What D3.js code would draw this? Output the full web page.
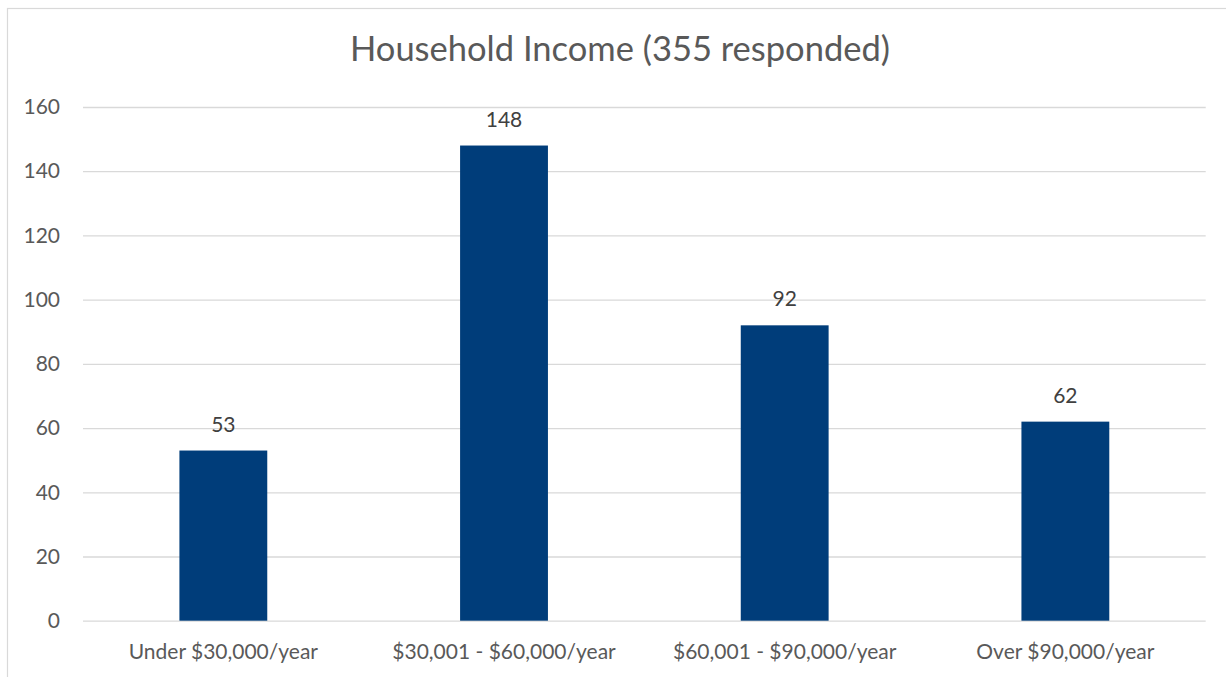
<!DOCTYPE html>
<html>
<head>
<meta charset="utf-8">
<script src="https://cdn.jsdelivr.net/npm/d3@7"></script>
<style>
  body { margin: 0; background: #fff; }
  svg { display: block; font-family: Lato, "Open Sans", sans-serif; }
</style>
</head>
<body>
<svg></svg>
<script>
// chart values
const categories = ['Under $30,000/year', '$30,001 - $60,000/year', '$60,001 - $90,000/year', 'Over $90,000/year'];
const counts = [53, 148, 92, 62];
const yTicks = [0, 20, 40, 60, 80, 100, 120, 140, 160];
const title = 'Household Income (355 responded)';

const W = 1226, H = 677;
const margin = { top: 107, right: 20, bottom: 56, left: 83 };
const width = 1205.7 - margin.left;
const height = 620.7 - margin.top;

const svg = d3.select('svg').attr('width', W).attr('height', H);

// outer chart border
svg.append('rect')
    .attr('x', 7.5).attr('y', 8.5)
    .attr('width', 1240).attr('height', 700)
    .attr('fill', 'none')
    .attr('stroke', '#d9d9d9')
    .attr('stroke-width', 1.2);

svg.append('text')
    .attr('x', 620).attr('y', 61)
    .attr('text-anchor', 'middle')
    .attr('fill', '#595959')
    .style('font-size', '34.5px')
    .text(title);

const g = svg.append('g').attr('transform', `translate(${margin.left},${margin.top})`);

const x = d3.scaleBand()
    .domain(categories)
    .range([0, width])
    .paddingInner(0.687)
    .paddingOuter(0.3435);

const y = d3.scaleLinear().domain([0, 160]).range([height, 0]);

// gridlines
g.append('g')
    .call(d3.axisLeft(y).tickValues(yTicks).tickSize(-width).tickFormat(''))
    .call(s => s.select('.domain').remove())
    .selectAll('line')
    .attr('stroke', '#d9d9d9')
    .attr('stroke-width', 1.3);

// y tick labels
g.append('g')
    .call(d3.axisLeft(y).tickValues(yTicks).tickSize(0).tickPadding(23))
    .call(s => s.select('.domain').remove())
    .selectAll('text')
    .attr('fill', '#595959')
    .style('font-size', '21px')
    .style('font-family', 'Lato, "Open Sans", sans-serif');

// bars
const data = categories.map((c, i) => ({ c, v: counts[i] }));
g.selectAll('.bar')
    .data(data)
    .enter().append('rect')
    .attr('class', 'bar')
    .attr('x', d => x(d.c))
    .attr('y', d => y(d.v))
    .attr('width', x.bandwidth())
    .attr('height', d => height - y(d.v))
    .attr('fill', '#003d7a');

// value labels
g.selectAll('.lbl')
    .data(data)
    .enter().append('text')
    .attr('class', 'lbl')
    .attr('x', d => x(d.c) + x.bandwidth() / 2)
    .attr('y', d => y(d.v) - 19)
    .attr('text-anchor', 'middle')
    .attr('fill', '#404040')
    .style('font-size', '21px')
    .text(d => d.v);

// x axis labels
g.append('g')
    .attr('transform', `translate(0,${height})`)
    .call(d3.axisBottom(x).tickSize(0).tickPadding(23))
    .call(s => s.select('.domain').remove())
    .selectAll('text')
    .attr('fill', '#595959')
    .style('font-size', '21px')
    .style('font-family', 'Lato, "Open Sans", sans-serif');
</script>
</body>
</html>
